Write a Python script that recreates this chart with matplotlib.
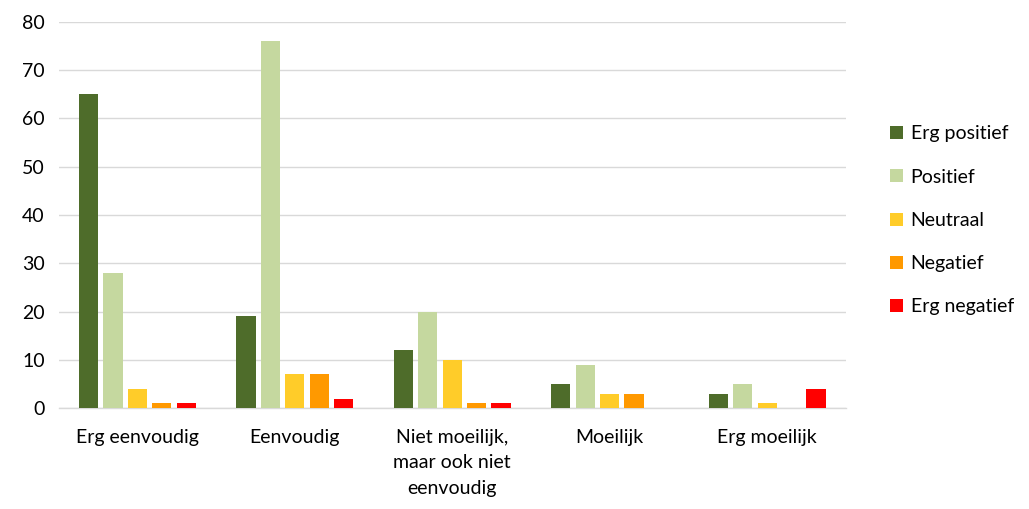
import numpy as np
import matplotlib.pyplot as plt

categories = ['Erg eenvoudig', 'Eenvoudig', 'Niet moeilijk,\nmaar ook niet\neenvoudig', 'Moeilijk', 'Erg moeilijk']
series = ['Erg positief', 'Positief', 'Neutraal', 'Negatief', 'Erg negatief']
erg_positief = [65, 19, 12, 5, 3]
positief = [28, 76, 20, 9, 5]
neutraal = [4, 7, 10, 3, 1]
negatief = [1, 7, 1, 3, 0]
erg_negatief = [1, 2, 1, 0, 4]
colors = ['#4E6C2A', '#C5D89F', '#FFCC29', '#FF9900', '#FF0000']

plt.rcParams['font.family'] = ['Lato', 'DejaVu Sans']

fig = plt.figure(figsize=(10.29, 5.09), dpi=100)
ax = fig.add_axes([0.057, 0.198, 0.765, 0.759])

x = np.arange(len(categories))
step = 0.155
width = 0.122
data = [erg_positief, positief, neutraal, negatief, erg_negatief]
for i, (name, vals) in enumerate(zip(series, data)):
    ax.bar(x + (i - 2) * step, vals, width, color=colors[i], label=name, zorder=3)

ax.set_xlim(-0.5, len(categories) - 0.5)
ax.set_ylim(0, 80)
ax.set_yticks(range(0, 81, 10))
ax.set_xticks(x)
ax.set_xticklabels(categories, fontsize=14, linespacing=1.6)
ax.tick_params(axis='y', labelsize=14, length=0, pad=10)
ax.tick_params(axis='x', length=0, pad=15)
ax.grid(axis='y', color='#D9D9D9', linewidth=1, zorder=0)
for s in ['top', 'right', 'left']:
    ax.spines[s].set_visible(False)
ax.spines['bottom'].set_color('#D9D9D9')
ax.spines['bottom'].set_linewidth(1)

fig.legend(loc='center left', bbox_to_anchor=(0.848, 0.567), frameon=False,
           fontsize=14, handlelength=0.65, handleheight=0.65, handletextpad=0.4,
           labelspacing=1.35)

plt.savefig('out.png', dpi=100)
